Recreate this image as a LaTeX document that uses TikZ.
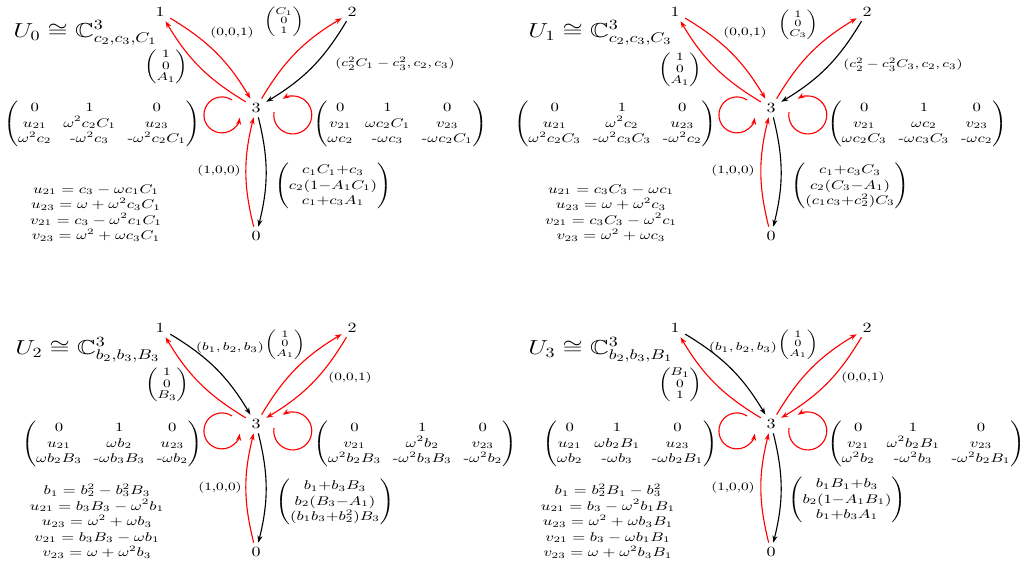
\documentclass[tikz,border=0pt]{standalone}
\usepackage{amsmath,amssymb}
\usetikzlibrary{arrows.meta,calc}
\newcommand{\hm}{\text{-}}

\begin{document}
\begin{tikzpicture}[x=0.025cm,y=0.025cm,
  every node/.append style={xscale=1.28},
  vert/.style={inner sep=3pt},
  rarr/.style={red,line width=0.8pt,-{Stealth[length=5pt,width=3.6pt]}},
  barr/.style={black,line width=0.8pt,-{Stealth[length=5pt,width=3.6pt]}},
  lens/.style={bend left=14},
  lab/.style={font=\footnotesize},
  vec/.style={font=\footnotesize,execute at begin node={\def\arraystretch{.85}}},
  tvec/.style={font=\scriptsize,execute at begin node={\def\arraystretch{.85}}},
  mat/.style={font=\small,execute at begin node={\setlength{\arraycolsep}{3.3pt}}},
  eqs/.style={font=\small,align=center},
  title/.style={font=\Large,anchor=west,inner sep=0pt}]
\useasboundingbox (0,0) rectangle (1028,564);

\begin{scope}[shift={(0,316)}]
  \node[vert] (a1) at (160,236) {1};
  \node[vert] (a2) at (352,236) {2};
  \node[vert] (a3) at (256,140) {3};
  \node[vert] (a0) at (256,12) {0};
  \draw[rarr] (a1) to[lens] (a3);
  \draw[rarr] (a3) to[lens] (a1);
  \draw[rarr] (a3) to[lens] (a2);
  \draw[barr] (a2) to[lens] (a3);
  \draw[rarr] (a0) to[lens] (a3);
  \draw[barr] (a3) to[lens] (a0);
  \draw[rarr] ($(a3)+(-24,8)$) arc[start angle=56,end angle=351,radius=18];
  \draw[rarr] ($(a3)+(18,-4)$) arc[start angle=171,end angle=482,radius=19];
  \node[title] (at) at (13,215) {$U_0\cong\mathbb{C}^3_{c_2,c_3,C_1}$};
  \node[lab] (a13) at (232,215) {(0,0,1)};
  \node[tvec] (a32) at (284,226) {$\begin{pmatrix}C_1\\0\\1\end{pmatrix}$};
  \node[vec] (a31) at (166,181) {$\begin{pmatrix}1\\0\\A_1\end{pmatrix}$};
  \node[lab] (a23) at (395,184) {$(c_2^2C_1-c_3^2,c_2,c_3)$};
  \node[mat] (al) at (102,124) {$\begin{pmatrix}0&1&0\\u_{21}&\omega^2c_2C_1&u_{23}\\\omega^2c_2&\hm\omega^2c_3&\hm\omega^2c_2C_1\end{pmatrix}$};
  \node[mat] (ar) at (400,124) {$\begin{pmatrix}0&1&0\\v_{21}&\omega c_2C_1&v_{23}\\\omega c_2&\hm\omega c_3&\hm\omega c_2C_1\end{pmatrix}$};
  \node[lab] (a03) at (219,77) {(1,0,0)};
  \node[mat] (a30) at (333,62) {$\begin{pmatrix}c_1C_1{+}c_3\\c_2(1{-}A_1C_1)\\c_1{+}c_3A_1\end{pmatrix}$};
  \node[eqs] (ae) at (96,35) {$u_{21}=c_3-\omega c_1C_1$\\$u_{23}=\omega+\omega^2c_3C_1$\\$v_{21}=c_3-\omega^2c_1C_1$\\$v_{23}=\omega^2+\omega c_3C_1$};
\end{scope}

\begin{scope}[shift={(515,316)}]
  \node[vert] (b1) at (160,236) {1};
  \node[vert] (b2) at (352,236) {2};
  \node[vert] (b3) at (256,140) {3};
  \node[vert] (b0) at (256,12) {0};
  \draw[rarr] (b1) to[lens] (b3);
  \draw[rarr] (b3) to[lens] (b1);
  \draw[rarr] (b3) to[lens] (b2);
  \draw[barr] (b2) to[lens] (b3);
  \draw[rarr] (b0) to[lens] (b3);
  \draw[barr] (b3) to[lens] (b0);
  \draw[rarr] ($(b3)+(-24,8)$) arc[start angle=56,end angle=351,radius=18];
  \draw[rarr] ($(b3)+(18,-4)$) arc[start angle=171,end angle=482,radius=19];
  \node[title] (bt) at (13,215) {$U_1\cong\mathbb{C}^3_{c_2,c_3,C_3}$};
  \node[lab] (b13) at (230,215) {(0,0,1)};
  \node[tvec] (b32) at (283,223) {$\begin{pmatrix}1\\0\\C_3\end{pmatrix}$};
  \node[vec] (b31) at (165,178) {$\begin{pmatrix}1\\0\\A_1\end{pmatrix}$};
  \node[lab] (b23) at (388,183) {$(c_2^2-c_3^2C_3,c_2,c_3)$};
  \node[mat] (bl) at (100,124) {$\begin{pmatrix}0&1&0\\u_{21}&\omega^2c_2&u_{23}\\\omega^2c_2C_3&\hm\omega^2c_3C_3&\hm\omega^2c_2\end{pmatrix}$};
  \node[mat] (br) at (402,124) {$\begin{pmatrix}0&1&0\\v_{21}&\omega c_2&v_{23}\\\omega c_2C_3&\hm\omega c_3C_3&\hm\omega c_2\end{pmatrix}$};
  \node[lab] (b03) at (218,77) {(1,0,0)};
  \node[mat] (b30) at (335,62) {$\begin{pmatrix}c_1{+}c_3C_3\\c_2(C_3{-}A_1)\\(c_1c_3{+}c_2^2)C_3\end{pmatrix}$};
  \node[eqs] (be) at (96,35) {$u_{21}=c_3C_3-\omega c_1$\\$u_{23}=\omega+\omega^2c_3$\\$v_{21}=c_3C_3-\omega^2c_1$\\$v_{23}=\omega^2+\omega c_3$};
\end{scope}

\begin{scope}
  \node[vert] (c1) at (160,236) {1};
  \node[vert] (c2) at (352,236) {2};
  \node[vert] (c3) at (256,140) {3};
  \node[vert] (c0) at (256,12) {0};
  \draw[barr] (c1) to[lens] (c3);
  \draw[rarr] (c3) to[lens] (c1);
  \draw[rarr] (c3) to[lens] (c2);
  \draw[rarr] (c2) to[lens] (c3);
  \draw[rarr] (c0) to[lens] (c3);
  \draw[barr] (c3) to[lens] (c0);
  \draw[rarr] ($(c3)+(-24,8)$) arc[start angle=56,end angle=351,radius=18];
  \draw[rarr] ($(c3)+(18,-4)$) arc[start angle=171,end angle=482,radius=19];
  \node[title] (ct) at (15,214) {$U_2\cong\mathbb{C}^3_{b_2,b_3,B_3}$};
  \node[lab] (c13) at (230,216) {$(b_1,b_2,b_3)$};
  \node[tvec] (c32) at (285,219) {$\begin{pmatrix}1\\0\\A_1\end{pmatrix}$};
  \node[vec] (c31) at (167,179) {$\begin{pmatrix}1\\0\\B_3\end{pmatrix}$};
  \node[lab] (c23) at (350,186) {(0,0,1)};
  \node[mat] (cl) at (112,120) {$\begin{pmatrix}0&1&0\\u_{21}&\omega b_2&u_{23}\\\omega b_2B_3&\hm\omega b_3B_3&\hm\omega b_2\end{pmatrix}$};
  \node[mat] (cr) at (415,120) {$\begin{pmatrix}0&1&0\\v_{21}&\omega^2b_2&v_{23}\\\omega^2b_2B_3&\hm\omega^2b_3B_3&\hm\omega^2b_2\end{pmatrix}$};
  \node[lab] (c03) at (220,76) {(1,0,0)};
  \node[mat] (c30) at (335,62) {$\begin{pmatrix}b_1{+}b_3B_3\\b_2(B_3{-}A_1)\\(b_1b_3{+}b_2^2)B_3\end{pmatrix}$};
  \node[eqs] (ce) at (97,43) {$b_1=b_2^2-b_3^2B_3$\\$u_{21}=b_3B_3-\omega^2b_1$\\$u_{23}=\omega^2+\omega b_3$\\$v_{21}=b_3B_3-\omega b_1$\\$v_{23}=\omega+\omega^2b_3$};
\end{scope}

\begin{scope}[shift={(515,0)}]
  \node[vert] (d1) at (160,236) {1};
  \node[vert] (d2) at (352,236) {2};
  \node[vert] (d3) at (256,140) {3};
  \node[vert] (d0) at (256,12) {0};
  \draw[barr] (d1) to[lens] (d3);
  \draw[rarr] (d3) to[lens] (d1);
  \draw[rarr] (d3) to[lens] (d2);
  \draw[rarr] (d2) to[lens] (d3);
  \draw[rarr] (d0) to[lens] (d3);
  \draw[barr] (d3) to[lens] (d0);
  \draw[rarr] ($(d3)+(-24,8)$) arc[start angle=56,end angle=351,radius=18];
  \draw[rarr] ($(d3)+(18,-4)$) arc[start angle=171,end angle=482,radius=19];
  \node[title] (dt) at (13,214) {$U_3\cong\mathbb{C}^3_{b_2,b_3,B_1}$};
  \node[lab] (d13) at (228,216) {$(b_1,b_2,b_3)$};
  \node[tvec] (d32) at (283,219) {$\begin{pmatrix}1\\0\\A_1\end{pmatrix}$};
  \node[vec] (d31) at (165,179) {$\begin{pmatrix}B_1\\0\\1\end{pmatrix}$};
  \node[lab] (d23) at (348,186) {(0,0,1)};
  \node[mat] (dl) at (115,120) {$\begin{pmatrix}0&1&0\\u_{21}&\omega b_2B_1&u_{23}\\\omega b_2&\hm\omega b_3&\hm\omega b_2B_1\end{pmatrix}$};
  \node[mat] (dr) at (411,120) {$\begin{pmatrix}0&1&0\\v_{21}&\omega^2b_2B_1&v_{23}\\\omega^2b_2&\hm\omega^2b_3&\hm\omega^2b_2B_1\end{pmatrix}$};
  \node[lab] (d03) at (218,76) {(1,0,0)};
  \node[mat] (d30) at (332,64) {$\begin{pmatrix}b_1B_1{+}b_3\\b_2(1{-}A_1B_1)\\b_1{+}b_3A_1\end{pmatrix}$};
  \node[eqs] (de) at (93,43) {$b_1=b_2^2B_1-b_3^2$\\$u_{21}=b_3-\omega^2b_1B_1$\\$u_{23}=\omega^2+\omega b_3B_1$\\$v_{21}=b_3-\omega b_1B_1$\\$v_{23}=\omega+\omega^2b_3B_1$};
\end{scope}
\end{tikzpicture}
\end{document}
